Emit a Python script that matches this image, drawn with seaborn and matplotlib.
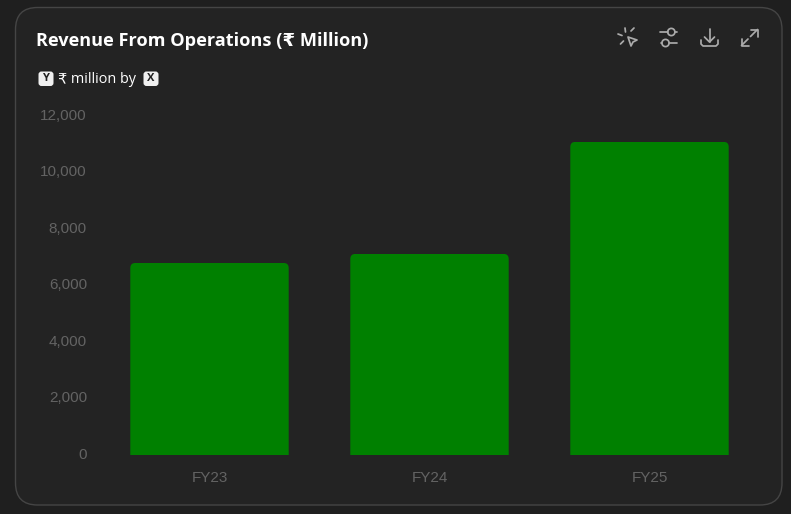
import matplotlib
matplotlib.use('Agg')
import matplotlib.pyplot as plt
import pandas as pd
import seaborn as sns
from matplotlib.patches import Circle, FancyBboxPatch, Polygon
from matplotlib.ticker import FuncFormatter
from matplotlib.transforms import IdentityTransform, ScaledTranslation

W, H = 791, 514

years = ['FY23', 'FY24', 'FY25']
revenue = [6770, 7090, 11050]
y_ticks = [0, 2000, 4000, 6000, 8000, 10000, 12000]

PAGE = '#1f1f1f'
CARD = '#232323'
BORDER = '#454545'
GREEN = '#008000'
TICK = '#636363'
ICON = '#ababab'
ICON_LW = 1.25

sns.set_theme(style='dark')
plt.rcParams['font.family'] = ['Liberation Sans', 'DejaVu Sans']

fig = plt.figure(figsize=(W / 100, H / 100), dpi=100, facecolor=PAGE)

# overlay in pixel coords for the card, header and icons
bg = fig.add_axes([0, 0, 1, 1], zorder=0)
bg.set_xlim(0, W)
bg.set_ylim(H, 0)
bg.axis('off')

bg.add_patch(FancyBboxPatch((15.5, 7.5), 766.5, 497.5,
                            boxstyle='round,pad=0,rounding_size=22',
                            fc=CARD, ec=BORDER, lw=1))

bg.text(36, 40.5, 'Revenue From Operations (₹ Million)', color='white', fontsize=13.05,
        fontweight='bold', va='center', ha='left', family=['Open Sans', 'DejaVu Sans'])

bg.text(58, 79.5, '₹ million by', color='white', fontsize=10.4, va='center', ha='left',
        family=['Open Sans', 'DejaVu Sans'])
for x0, letter in [(38.5, 'Y'), (143.5, 'X')]:
    bg.add_patch(FancyBboxPatch((x0, 71.5), 15, 14.5,
                                boxstyle='round,pad=0,rounding_size=3',
                                fc='#f0f0f0', ec='none'))
    bg.text(x0 + 7.5, 78.8, letter, color='#222222', fontsize=8, fontweight='bold',
            va='center', ha='center', family=['Open Sans', 'DejaVu Sans'])


def seg(xs, ys):
    bg.plot(xs, ys, color=ICON, lw=ICON_LW, solid_capstyle='round', solid_joinstyle='round')


# click icon
seg([625, 625.5], [28, 32])
seg([618, 622], [34, 35.5])
seg([620.5, 623.5], [44, 41])
seg([631, 634], [31, 28])
bg.add_patch(Polygon([[628, 37], [637, 40], [633, 42], [631, 46]], closed=True,
                     fc='none', ec=ICON, lw=ICON_LW, joinstyle='round'))

# sliders icon
seg([660, 667.5], [32, 32])
seg([675, 677], [32, 32])
seg([661, 662], [43, 43])
seg([669, 677], [43, 43])
bg.add_patch(Circle((671.3, 32), 3.6, fc='none', ec=ICON, lw=ICON_LW))
bg.add_patch(Circle((665.5, 43), 3.6, fc='none', ec=ICON, lw=ICON_LW))

# download icon
seg([709.5, 709.5], [29, 42])
seg([704.5, 709.5, 714.5], [37, 42, 37])
seg([701, 701, 703, 716, 718, 718], [40, 44, 46, 46, 44, 40])

# expand icon, two arrows with a gap between them
seg([750.5, 757.5], [36.5, 29.5])
seg([750.5, 757.5, 757.5], [29.5, 29.5, 36.5])
seg([741.5, 748], [45.5, 39])
seg([741.5, 741.5, 748.5], [38.5, 45.5, 45.5])

# chart
ax = fig.add_axes([99.5 / W, 1 - 454.5 / H, 660 / W, 339.5 / H], zorder=1)
ax.patch.set_alpha(0)

df = pd.DataFrame({'year': years, 'revenue': revenue})
sns.barplot(data=df, x='year', y='revenue', color=GREEN, saturation=1, width=0.72,
            linewidth=0, ax=ax)

ax.set_ylim(0, 12000)
ax.set_yticks(y_ticks)
ax.yaxis.set_major_formatter(FuncFormatter(lambda v, _: f'{int(v):,}'))
ax.set_xlabel('')
ax.set_ylabel('')
ax.grid(False)
ax.tick_params(axis='both', length=0, colors=TICK, labelsize=11)
ax.tick_params(axis='y', pad=9)
ax.tick_params(axis='x', pad=12)
for s in ax.spines.values():
    s.set_visible(False)

# nudge y labels up a little
nudge = ScaledTranslation(0, 0.7 / 72, fig.dpi_scale_trans)
for lab in ax.get_yticklabels():
    lab.set_transform(lab.get_transform() + nudge)

# round only the top corners of the bars
fig.canvas.draw()
for bar in ax.patches:
    bb = bar.get_window_extent()
    clip = FancyBboxPatch((bb.x0, bb.y0 - 10), bb.width, bb.height + 10,
                          boxstyle='round,pad=0,rounding_size=5',
                          transform=IdentityTransform())
    bar.set_clip_path(clip)

fig.savefig('out.png', dpi=100, facecolor=PAGE)
